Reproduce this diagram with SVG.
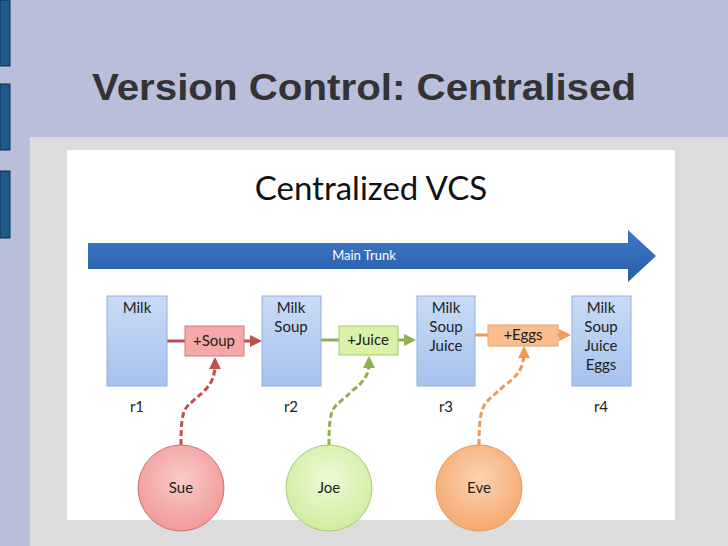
<svg xmlns="http://www.w3.org/2000/svg" width="728" height="546" viewBox="0 0 728 546">
<defs>
<linearGradient id="gb" x1="0" y1="0" x2="0" y2="1"><stop offset="0" stop-color="#c9dbf6"/><stop offset="1" stop-color="#a6c2ee"/></linearGradient>
<linearGradient id="gt" x1="0" y1="0" x2="0" y2="1"><stop offset="0" stop-color="#3c78c8"/><stop offset="1" stop-color="#2a5fa8"/></linearGradient>
<radialGradient id="gs" cx="0.5" cy="0.4" r="0.6"><stop offset="0" stop-color="#fbc9c9"/><stop offset="1" stop-color="#f19a9a"/></radialGradient>
<radialGradient id="gj" cx="0.5" cy="0.4" r="0.6"><stop offset="0" stop-color="#eefad6"/><stop offset="1" stop-color="#cdeea0"/></radialGradient>
<radialGradient id="ge" cx="0.5" cy="0.4" r="0.6"><stop offset="0" stop-color="#fcd2b0"/><stop offset="1" stop-color="#f6a970"/></radialGradient>
<marker id="mr" markerWidth="4" markerHeight="4" refX="3" refY="2" orient="auto" markerUnits="strokeWidth"><path d="M0,0 L4,2 L0,4 z" fill="#c0504d"/></marker>
<marker id="mg" markerWidth="4" markerHeight="4" refX="3" refY="2" orient="auto" markerUnits="strokeWidth"><path d="M0,0 L4,2 L0,4 z" fill="#8fb050"/></marker>
<marker id="mo" markerWidth="4" markerHeight="4" refX="3" refY="2" orient="auto" markerUnits="strokeWidth"><path d="M0,0 L4,2 L0,4 z" fill="#f29a55"/></marker>
</defs>
<style>
.t{font-family:Lato,"Open Sans",sans-serif;font-size:15px;fill:#222;text-anchor:middle}
.rev{fill:url(#gb);stroke:#8fb0df;stroke-width:1}
.ln{fill:none;stroke-width:3}
.ds{fill:none;stroke-width:3;stroke-dasharray:6,3}
</style>
<rect width="728" height="546" fill="#b9bfda"/>
<rect x="0" y="0" width="10" height="66" fill="#1f5a8c" stroke="#0c2c4c"/>
<rect x="0" y="84" width="10" height="66" fill="#1f5a8c" stroke="#0c2c4c"/>
<rect x="0" y="171" width="10" height="67" fill="#1f5a8c" stroke="#0c2c4c"/>
<rect x="30" y="137" width="698" height="409" fill="#dcdcdc"/>
<rect x="67" y="150" width="608" height="370" fill="#ffffff"/>
<text x="92" y="100" font-family="Liberation Sans,Arial,sans-serif" font-weight="bold" font-size="37" fill="#333" textLength="544" lengthAdjust="spacingAndGlyphs">Version Control: Centralised</text>
<text x="371" y="200" font-family="Lato,'Open Sans',sans-serif" font-size="33" fill="#111" text-anchor="middle">Centralized VCS</text>
<g id="trunk">
<path d="M88,243 H628 V230 L656,256 L628,282 V269 H88 Z" fill="url(#gt)"/>
<text x="364" y="260" class="t" style="fill:#fff;font-size:13px">Main Trunk</text>
</g>
<g id="connectors">
<path class="ln" stroke="#c0504d" d="M167,341 H185"/>
<path class="ln" stroke="#c0504d" d="M244,341 H259" marker-end="url(#mr)"/>
<path class="ln" stroke="#8fb050" d="M321,340 H339"/>
<path class="ln" stroke="#8fb050" d="M398,340 H413" marker-end="url(#mg)"/>
<path class="ln" stroke="#f29a55" d="M475,335 H488"/>
<path class="ln" stroke="#f29a55" d="M558,335 H568" marker-end="url(#mo)"/>
<path class="ds" stroke="#c0504d" d="M181,445 C181,400 186,410 205,390 C215,380 215,370 215,360" marker-end="url(#mr)"/>
<path class="ds" stroke="#8fb050" d="M329,445 C329,400 334,410 353,390 C369,378 369,370 369,359" marker-end="url(#mg)"/>
<path class="ds" stroke="#f29a55" d="M479,445 C479,400 484,405 505,385 C524,372 524,360 524,349" marker-end="url(#mo)"/>
</g>
<g id="r1"><rect class="rev" x="107" y="296" width="60" height="90"/><text class="t" x="137" y="313">Milk</text><text class="t" x="137" y="412">r1</text></g>
<g id="r2"><rect class="rev" x="262" y="296" width="59" height="90"/><text class="t" x="291" y="313">Milk</text><text class="t" x="291" y="332">Soup</text><text class="t" x="291" y="412">r2</text></g>
<g id="r3"><rect class="rev" x="417" y="296" width="58" height="90"/><text class="t" x="446" y="313">Milk</text><text class="t" x="446" y="332">Soup</text><text class="t" x="446" y="351">Juice</text><text class="t" x="446" y="412">r3</text></g>
<g id="r4"><rect class="rev" x="572" y="296" width="59" height="90"/><text class="t" x="601" y="313">Milk</text><text class="t" x="601" y="332">Soup</text><text class="t" x="601" y="351">Juice</text><text class="t" x="601" y="370">Eggs</text><text class="t" x="601" y="412">r4</text></g>
<g id="soup"><rect x="185" y="326" width="59" height="30" fill="#f5a8a8" stroke="#d27a78"/><text class="t" x="214" y="346">+Soup</text></g>
<g id="juice"><rect x="339" y="326" width="59" height="29" fill="#d9f2a8" stroke="#a6c874"/><text class="t" x="368" y="345">+Juice</text></g>
<g id="eggs"><rect x="488" y="325" width="70" height="21" fill="#f9be8c" stroke="#eaa066"/><text class="t" x="523" y="340">+Eggs</text></g>
<g id="sue"><circle cx="181" cy="488" r="43" fill="url(#gs)" stroke="#d07070"/><text class="t" x="181" y="493">Sue</text></g>
<g id="joe"><circle cx="329" cy="488" r="43" fill="url(#gj)" stroke="#a8c878"/><text class="t" x="329" y="493">Joe</text></g>
<g id="eve"><circle cx="479" cy="488" r="43" fill="url(#ge)" stroke="#e09a60"/><text class="t" x="479" y="493">Eve</text></g>
</svg>
